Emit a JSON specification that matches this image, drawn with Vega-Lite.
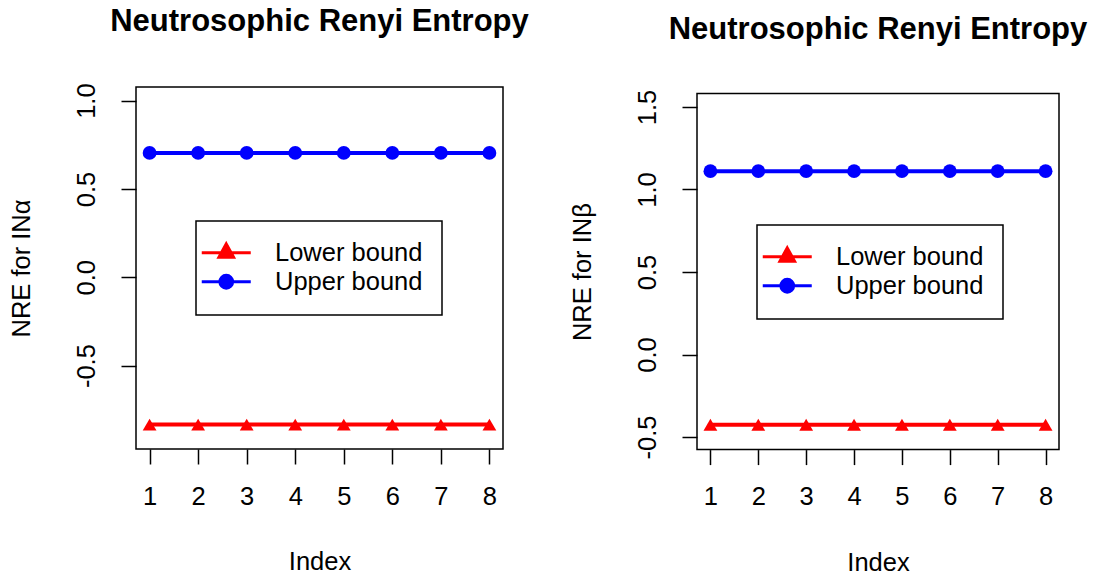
{
  "$schema": "https://vega.github.io/schema/vega-lite/v6.json",
  "padding": {"left": 8, "top": 5, "right": 5, "bottom": 5},
  "datasets": {
    "alpha": [
      {"Index": 1, "NRE": -0.834, "Bound": "Lower bound"},
      {"Index": 2, "NRE": -0.834, "Bound": "Lower bound"},
      {"Index": 3, "NRE": -0.834, "Bound": "Lower bound"},
      {"Index": 4, "NRE": -0.834, "Bound": "Lower bound"},
      {"Index": 5, "NRE": -0.834, "Bound": "Lower bound"},
      {"Index": 6, "NRE": -0.834, "Bound": "Lower bound"},
      {"Index": 7, "NRE": -0.834, "Bound": "Lower bound"},
      {"Index": 8, "NRE": -0.834, "Bound": "Lower bound"},
      {"Index": 1, "NRE": 0.704, "Bound": "Upper bound"},
      {"Index": 2, "NRE": 0.704, "Bound": "Upper bound"},
      {"Index": 3, "NRE": 0.704, "Bound": "Upper bound"},
      {"Index": 4, "NRE": 0.704, "Bound": "Upper bound"},
      {"Index": 5, "NRE": 0.704, "Bound": "Upper bound"},
      {"Index": 6, "NRE": 0.704, "Bound": "Upper bound"},
      {"Index": 7, "NRE": 0.704, "Bound": "Upper bound"},
      {"Index": 8, "NRE": 0.704, "Bound": "Upper bound"}
    ],
    "beta": [
      {"Index": 1, "NRE": -0.425, "Bound": "Lower bound"},
      {"Index": 2, "NRE": -0.425, "Bound": "Lower bound"},
      {"Index": 3, "NRE": -0.425, "Bound": "Lower bound"},
      {"Index": 4, "NRE": -0.425, "Bound": "Lower bound"},
      {"Index": 5, "NRE": -0.425, "Bound": "Lower bound"},
      {"Index": 6, "NRE": -0.425, "Bound": "Lower bound"},
      {"Index": 7, "NRE": -0.425, "Bound": "Lower bound"},
      {"Index": 8, "NRE": -0.425, "Bound": "Lower bound"},
      {"Index": 1, "NRE": 1.111, "Bound": "Upper bound"},
      {"Index": 2, "NRE": 1.111, "Bound": "Upper bound"},
      {"Index": 3, "NRE": 1.111, "Bound": "Upper bound"},
      {"Index": 4, "NRE": 1.111, "Bound": "Upper bound"},
      {"Index": 5, "NRE": 1.111, "Bound": "Upper bound"},
      {"Index": 6, "NRE": 1.111, "Bound": "Upper bound"},
      {"Index": 7, "NRE": 1.111, "Bound": "Upper bound"},
      {"Index": 8, "NRE": 1.111, "Bound": "Upper bound"}
    ]
  },
  "spacing": 40,
  "hconcat": [
    {
      "width": 367,
      "height": 362,
      "title": {"text": "Neutrosophic Renyi Entropy", "offset": 45},
      "data": {"name": "alpha"},
      "encoding": {
        "x": {"field": "Index", "type": "quantitative", "scale": {"domain": [0.72, 8.28], "nice": false, "zero": false},
              "axis": {"values": [1, 2, 3, 4, 5, 6, 7, 8], "title": "Index"}},
        "y": {"field": "NRE", "type": "quantitative", "scale": {"domain": [-0.972, 1.077], "nice": false, "zero": false},
              "axis": {"values": [-0.5, 0, 0.5, 1], "format": ".1f", "labelExpr": "replace(datum.label, '\u2212', '-')", "title": "NRE for INα"}}
      },
      "layer": [
        {
          "mark": {"type": "line", "strokeWidth": 4},
          "encoding": {
            "color": {"field": "Bound", "type": "nominal",
              "scale": {"domain": ["Lower bound", "Upper bound"], "range": ["#ff0000", "#0000ff"]},
              "legend": {"orient": "none", "legendX": 60, "legendY": 134, "title": null,
                "encode": {"symbols": {"update": {
                  "shape": {"signal": "datum.value === 'Lower bound' ? 'M-2.45,0H2.45M0,-0.88L0.73,0.44L-0.73,0.44Z' : 'M-2.45,0H2.45M0.64,0A0.64,0.64,0,1,1,-0.64,0A0.64,0.64,0,1,1,0.64,0Z'"},
                  "fill": {"signal": "datum.value === 'Lower bound' ? '#ff0000' : '#0000ff'"},
                  "stroke": {"signal": "datum.value === 'Lower bound' ? '#ff0000' : '#0000ff'"},
                  "strokeWidth": {"value": 3},
                  "opacity": {"value": 1}
                }}}}
            }
          }
        },
        {
          "mark": {"type": "point", "filled": true, "opacity": 1, "size": 190},
          "encoding": {
            "color": {"field": "Bound", "type": "nominal"},
            "shape": {"condition": {"test": "datum.Bound === 'Lower bound'", "value": "triangle-up"}, "value": "circle"}
          }
        }
      ]
    },
    {
      "width": 362,
      "height": 362.6,
      "view": {"stroke": null},
      "title": {"text": "Neutrosophic Renyi Entropy", "offset": 41},
      "data": {"name": "beta"},
      "encoding": {
        "x": {"field": "Index", "type": "quantitative", "scale": {"domain": [0.72, 8.28], "nice": false, "zero": false},
              "axis": {"values": [1, 2, 3, 4, 5, 6, 7, 8], "title": "Index"}},
        "y": {"field": "NRE", "type": "quantitative", "scale": {"domain": [-0.576, 1.621], "nice": false, "zero": false},
              "axis": {"values": [-0.5, 0, 0.5, 1, 1.5], "format": ".1f", "labelExpr": "replace(datum.label, '\u2212', '-')", "title": "NRE for INβ", "titleY": 184.6}}
      },
      "layer": [
        {
          "transform": [{"filter": "datum.Index === 1 && datum.Bound === 'Lower bound'"}],
          "mark": {"type": "rect", "fill": "transparent", "stroke": "#000000", "strokeWidth": 1.5, "clip": false},
          "encoding": {
            "x": {"datum": 0.72, "type": "quantitative"},
            "x2": {"datum": 8.28},
            "y": {"datum": -0.576, "type": "quantitative"},
            "y2": {"datum": 1.581}
          }
        },
        {
          "mark": {"type": "line", "strokeWidth": 4},
          "encoding": {
            "color": {"field": "Bound", "type": "nominal",
              "scale": {"domain": ["Lower bound", "Upper bound"], "range": ["#ff0000", "#0000ff"]},
              "legend": {"orient": "none", "legendX": 60, "legendY": 138, "title": null,
                "encode": {"symbols": {"update": {
                  "shape": {"signal": "datum.value === 'Lower bound' ? 'M-2.45,0H2.45M0,-0.88L0.73,0.44L-0.73,0.44Z' : 'M-2.45,0H2.45M0.64,0A0.64,0.64,0,1,1,-0.64,0A0.64,0.64,0,1,1,0.64,0Z'"},
                  "fill": {"signal": "datum.value === 'Lower bound' ? '#ff0000' : '#0000ff'"},
                  "stroke": {"signal": "datum.value === 'Lower bound' ? '#ff0000' : '#0000ff'"},
                  "strokeWidth": {"value": 3},
                  "opacity": {"value": 1}
                }}}}
            }
          }
        },
        {
          "mark": {"type": "point", "filled": true, "opacity": 1, "size": 190},
          "encoding": {
            "color": {"field": "Bound", "type": "nominal"},
            "shape": {"condition": {"test": "datum.Bound === 'Lower bound'", "value": "triangle-up"}, "value": "circle"}
          }
        }
      ]
    }
  ],
  "resolve": {
    "scale": {"x": "independent", "y": "independent", "color": "independent"},
    "legend": {"color": "independent"},
    "axis": {"x": "independent", "y": "independent"}
  },
  "config": {
    "font": "Liberation Sans",
    "view": {"stroke": "#000000", "strokeWidth": 1.5},
    "title": {"fontSize": 31, "fontWeight": "bold", "font": "Liberation Sans", "color": "#000000", "anchor": "middle", "baseline": "alphabetic"},
    "axis": {
      "grid": false, "domain": false,
      "tickSize": 15, "tickWidth": 1.5, "tickColor": "#000000",
      "labelFontSize": 25.5, "labelFont": "Liberation Sans", "labelColor": "#000000",
      "titleFontSize": 25.5, "titleFont": "Liberation Sans", "titleFontWeight": "normal", "titleColor": "#000000",
      "labelFlush": false, "labelOverlap": false
    },
    "axisX": {"labelPadding": 20, "titlePadding": 40},
    "axisY": {"labelAngle": -90, "labelPadding": 22, "titlePadding": 40, "labelAlign": "center", "labelBaseline": "bottom"},
    "legend": {
      "labelFontSize": 25.5, "labelFont": "Liberation Sans", "labelColor": "#000000",
      "strokeColor": "#000000", "strokeWidth": 1.5, "fillColor": "#ffffff",
      "padding": 19, "rowPadding": 2, "symbolSize": 400, "symbolStrokeWidth": 3,
      "labelOffset": 36, "symbolOffset": -1.5
    }
  }
}
